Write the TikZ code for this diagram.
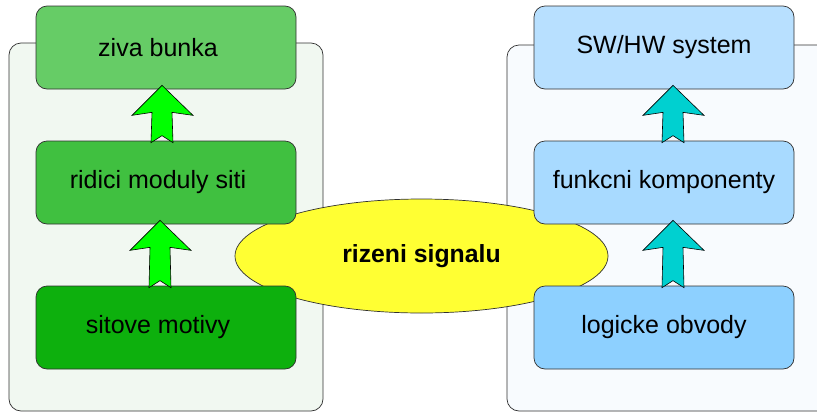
\documentclass[tikz,border=0pt]{standalone}
\usepackage{fontspec}
\setmainfont{Liberation Sans}
\usetikzlibrary{calc,shapes.geometric}

\definecolor{frameL}{HTML}{F1F8F1}
\definecolor{frameR}{HTML}{F8FBFE}
\definecolor{gA}{HTML}{66CC66}
\definecolor{gB}{HTML}{40C040}
\definecolor{gC}{HTML}{0DB00D}
\definecolor{bA}{HTML}{B8E0FF}
\definecolor{bB}{HTML}{A8DAFF}
\definecolor{bC}{HTML}{8DD0FF}
\definecolor{arrG}{HTML}{00FF00}
\definecolor{arrC}{HTML}{00D0D0}
\definecolor{hub}{HTML}{FFFF33}
\definecolor{edge}{HTML}{303030}

\tikzset{
  frame/.style={draw=edge, line width=0.7pt, rounded corners=12pt},
  layer/.style={draw=edge, line width=0.7pt, rounded corners=11pt,
    minimum width=260pt, minimum height=83pt, inner sep=0pt,
    font=\fontsize{25pt}{28pt}\selectfont},
  hubstyle/.style={ellipse, draw=edge, line width=0.7pt, fill=hub,
    minimum width=373pt, minimum height=114pt, inner sep=0pt,
    font=\fontsize{24.8pt}{28pt}\selectfont\bfseries},
  blockarrow/.style={draw=black, line width=0.6pt, line join=miter}
}

% text pushed slightly left inside the green layers
\newcommand\lefttext[1]{#1\hspace*{16pt}}

% block arrow pointing up from the lower node to the upper node
\newcommand\liftarrow[4]{%
  \coordinate (t) at ([xshift=#3,yshift=4pt]#2.south);
  \coordinate (b) at ([xshift=#3,yshift=-2pt]#1.north);
  \draw[blockarrow,fill=#4] (t) -- ($(t)+(31pt,-30pt)$) -- ($(t)+(10pt,-27pt)$)
    -- ($(b)+(11pt,0pt)$) -- ($(b)+(0pt,7pt)$) -- ($(b)+(-11pt,0pt)$)
    -- ($(t)+(-10pt,-27pt)$) -- ($(t)+(-30pt,-30pt)$) -- cycle;}

\begin{document}
\begin{tikzpicture}[x=1pt,y=-1pt]
  \useasboundingbox (0,0) rectangle (817,413);

  % background frames
  \draw[frame, fill=frameL] (9,43) rectangle (323,411);
  \draw[frame, fill=frameR] (507,45) rectangle (830,411);

  % central ellipse
  \node[hubstyle] (hub) at (421.5,256) {rizeni signalu};

  % living cell hierarchy
  \node[layer, fill=gA] (cell) at (166,47.5) {\lefttext{ziva bunka}};
  \node[layer, fill=gB] (mod) at (166,182.5) {\lefttext{ridici moduly siti}};
  \node[layer, fill=gC] (mot) at (166,327.5) {\lefttext{sitove motivy}};

  % hardware/software hierarchy
  \node[layer, fill=bA] (sys) at (664,47.5) {SW/HW system};
  \node[layer, fill=bB] (comp) at (664,182.5) {funkcni komponenty};
  \node[layer, fill=bC] (logic) at (664,327.5) {logicke obvody};

  % upward arrows between layers
  \liftarrow{mod}{cell}{-4pt}{arrG}
  \liftarrow{mot}{mod}{-6pt}{arrG}
  \liftarrow{comp}{sys}{9pt}{arrC}
  \liftarrow{logic}{comp}{9pt}{arrC}
\end{tikzpicture}
\end{document}
